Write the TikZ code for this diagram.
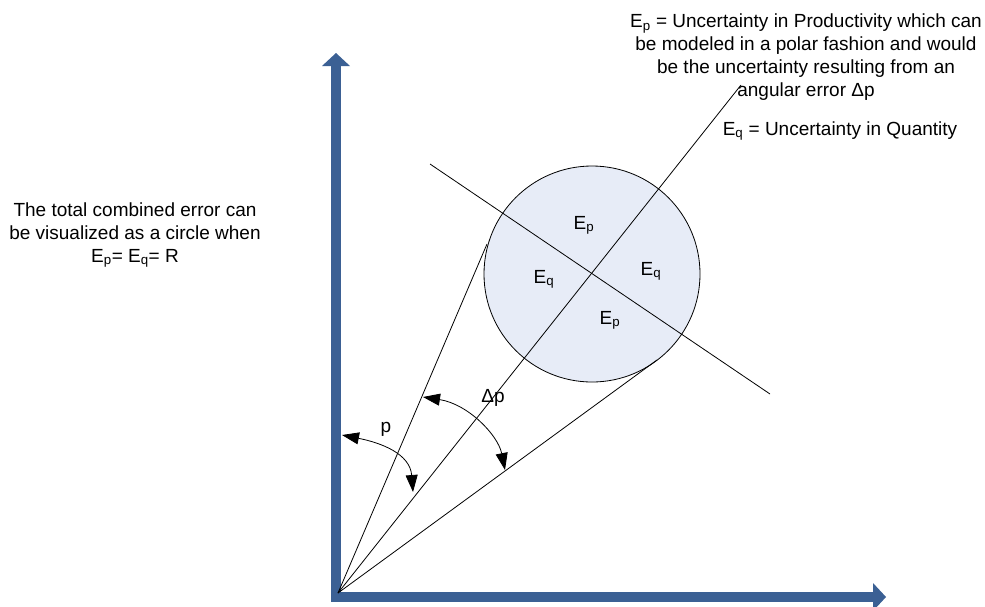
\documentclass[tikz,border=0pt]{standalone}
\usepackage{fontspec}
\setmainfont{Liberation Sans}
\usetikzlibrary{arrows.meta}
\definecolor{axisblue}{RGB}{59,96,148}
\definecolor{circfill}{RGB}{231,236,247}
\begin{document}
\begin{tikzpicture}[x=1pt,y=-1pt,
  thinline/.style={draw=black,line width=0.8pt},
  axisline/.style={line width=10pt,draw=axisblue,line join=miter},
  arcarrow/.style={draw=black,line width=0.8pt,{Triangle[length=17pt,width=12pt]}-{Triangle[length=17pt,width=12pt]}},
  lbl/.style={font=\fontsize{19}{22.7}\selectfont,inner sep=0pt},
]
\useasboundingbox (0,0) rectangle (985,606);

% axes
\coordinate (Ytop) at (336,53);
\coordinate (Ybase) at (336,64);
\coordinate (AO) at (336,597);
\coordinate (Xbase) at (875,597);
\coordinate (Xtip) at (886,597);
\draw[axisline] (Ybase) -- (AO) -- (Xbase);
\fill[axisblue] (Ytop) -- (322,66) -- (350,66) -- cycle;
\fill[axisblue] (Xtip) -- (873,583) -- (873,611) -- cycle;

% circle
\node[circle,draw=black,fill=circfill,minimum size=216pt,inner sep=0pt,line width=0.8pt] (C) at (592,274) {};

% rays and cross line
\coordinate (O) at (338,593);
\coordinate (T1) at (487,244);
\coordinate (T2) at (657,360);
\coordinate (Ctop) at (741,85);
\coordinate (P1) at (430,164);
\coordinate (P2) at (770,394);
\draw[thinline] (O) -- (T1);
\draw[thinline] (O) -- (T2);
\draw[thinline] (O) -- (Ctop);
\draw[thinline] (P1) -- (P2);

% angle arcs
\coordinate (pa) at (342,435);
\coordinate (pb) at (413,492);
\draw[arcarrow] (pa) .. controls (382,443) and (410,454) .. (pb);
\coordinate (da) at (423,397);
\coordinate (db) at (505,470);
\draw[arcarrow] (da) .. controls (468,404) and (498,435) .. (db);

% labels
\node[lbl,anchor=base] (lp) at (386,432) {p};
\node[lbl,anchor=base] (ldp) at (493,402) {Δp};
\node[lbl,anchor=base] (ep1) at (584,229) {E\textsubscript{p}};
\node[lbl,anchor=base] (eq1) at (544,283) {E\textsubscript{q}};
\node[lbl,anchor=base] (eq2) at (651,275) {E\textsubscript{q}};
\node[lbl,anchor=base] (ep2) at (610,324) {E\textsubscript{p}};

\node[lbl,align=center,anchor=north] (t1) at (806,14) {E\textsubscript{p} = Uncertainty in Productivity which can\\be modeled in a polar fashion and would\\be the uncertainty resulting from an\\angular error Δp};
\node[lbl,anchor=base] (t2) at (840,135) {E\textsubscript{q} = Uncertainty in Quantity};
\node[lbl,align=center,anchor=north] (t3) at (135,203) {The total combined error can\\be visualized as a circle when\\E\textsubscript{p}= E\textsubscript{q}= R};
\end{tikzpicture}
\end{document}
